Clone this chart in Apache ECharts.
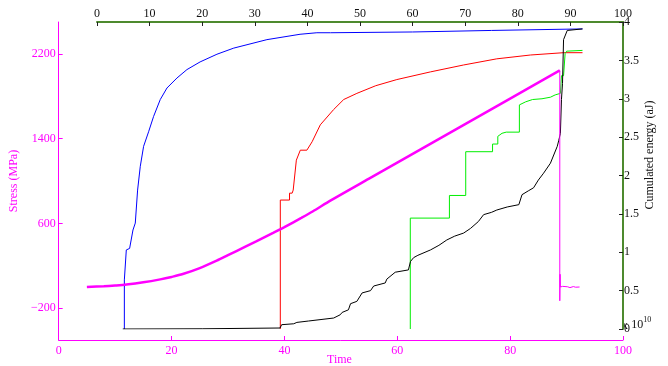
<!DOCTYPE html>
<html>
<head>
<meta charset="utf-8">
<script src="https://cdn.jsdelivr.net/npm/echarts@6/dist/echarts.min.js"></script>
<style>
  html, body { margin: 0; padding: 0; background: #fff; }
  #chart { width: 668px; height: 366px; }
</style>
</head>
<body>
<div id="chart"></div>
<script>
// 应力 (下/左坐标轴, Time - MPa)
let stressTime = [5, 8, 10, 12, 15, 18, 20, 22, 25, 28, 30, 33, 35, 38, 40, 43, 45, 48.3, 55, 60, 70, 80, 88.8]
let stressValues = [0, 7, 14, 23, 44, 72, 95, 122, 178, 248, 300, 378, 430, 510, 565, 652, 712, 819, 1022, 1173, 1475, 1777, 2043]
// 峰值之后的掉落段
let stressTailTime = [88.8, 88.8, 88.85, 88.9, 89.3, 89.6, 90.2, 90.6, 91.2, 91.6, 92.3]
let stressTailValues = [2043, -130, 120, 0, 6, -4, 2, -6, 4, -2, 0]

// 累计能量 (上/右坐标轴, 单位 x 10^10 aJ)
let blueTime = [5.2, 5.2, 5.57, 6.2, 6.84, 7.28, 7.72, 8.23, 8.86, 9.81, 10.76, 12.03, 13.3, 15.2, 17.1, 19.6, 22.8, 26, 32.3, 38.6, 41.8, 44.4, 60, 75, 92.3]
let blueEnergy = [0, 0.64, 1.03, 1.05, 1.29, 1.38, 1.81, 2.12, 2.38, 2.57, 2.77, 2.99, 3.14, 3.27, 3.38, 3.48, 3.58, 3.66, 3.77, 3.84, 3.86, 3.86, 3.87, 3.89, 3.91]

let redTime = [34.85, 34.85, 36.6, 36.6, 37.1, 37.3, 37.9, 38.65, 39.9, 40.9, 42.45, 45, 46.9, 49.4, 53, 57, 63.4, 69.7, 76, 82.4, 88.7, 92.3]
let redEnergy = [0, 1.68, 1.68, 1.77, 1.77, 1.81, 2.2, 2.33, 2.33, 2.44, 2.66, 2.86, 2.99, 3.07, 3.17, 3.25, 3.35, 3.44, 3.52, 3.57, 3.6, 3.6]

let greenTime = [59.56, 59.56, 67.0, 67.0, 70.1, 70.1, 75.2, 75.2, 76.2, 76.2, 77.0, 77.8, 80.3, 80.3, 81.5, 82.8, 84.6, 86.2, 87.1, 88.1, 88.3, 88.7, 89.0, 89.3, 92.3]
let greenEnergy = [0, 1.445, 1.445, 1.74, 1.74, 2.31, 2.31, 2.41, 2.41, 2.51, 2.55, 2.565, 2.565, 2.92, 2.96, 2.99, 3.0, 3.02, 3.05, 3.07, 3.3, 3.3, 3.59, 3.62, 3.63]

let blackTime = [4.9, 20, 34.8, 35.1, 37.4, 38, 40.2, 40.55, 45, 46.25, 46.6, 47.8, 48.2, 49.4, 50.4, 52, 52.6, 54.8, 55.1, 56.7, 59.2, 59.6, 60.2, 61, 63.4, 65, 66.5, 68, 69.7, 71, 72.5, 73.5, 75, 76, 78, 80.2, 80.8, 82, 83, 83.9, 84.9, 86.2, 87.5, 87.8, 88.1, 88.3, 88.5, 88.7, 89.4, 92.3]
let blackEnergy = [0, 0.003, 0.013, 0.056, 0.068, 0.086, 0.104, 0.117, 0.143, 0.186, 0.216, 0.25, 0.33, 0.36, 0.47, 0.5, 0.56, 0.6, 0.65, 0.74, 0.77, 0.88, 0.93, 0.96, 1.03, 1.09, 1.16, 1.21, 1.25, 1.31, 1.4, 1.49, 1.52, 1.55, 1.59, 1.62, 1.75, 1.8, 1.84, 1.94, 2.03, 2.16, 2.38, 2.46, 2.55, 2.99, 3.2, 3.77, 3.89, 3.91]

// 刻度
let stressTicks = [-200, 600, 1400, 2200]

const MAGENTA = '#ff00ff'
const AXIS_GREEN = '#4d8a2e'
const FONT = 'Liberation Serif'

function pairs(xs, ys) {
  let list = []
  xs.forEach((x, i) => {
    list.push([x, ys[i]])
  })
  return list
}

function lineSeries(name, xs, ys, color, width, xi, yi) {
  return {
    name: name,
    type: 'line',
    xAxisIndex: xi,
    yAxisIndex: yi,
    data: pairs(xs, ys),
    symbol: 'none',
    lineStyle: { color: color, width: width },
    itemStyle: { color: color },
    z: 2
  }
}

let stressSeries = lineSeries('stress', stressTime, stressValues, MAGENTA, 2.5, 0, 0)
stressSeries.smooth = 0.3

let chart = echarts.init(document.getElementById('chart'))
let option = {
  animation: false,
  backgroundColor: '#fff',
  textStyle: { fontFamily: FONT },
  grid: [
    { left: 56, right: 45, top: 22, bottom: 26 },
    { left: 97, right: 45, top: 22, bottom: 37 }
  ],
  xAxis: [
    {
      type: 'value',
      gridIndex: 0,
      position: 'bottom',
      min: 0,
      max: 100,
      interval: 20,
      axisLine: { onZero: false, lineStyle: { color: MAGENTA, width: 1 } },
      axisTick: { inside: true, length: 4, lineStyle: { color: MAGENTA } },
      axisLabel: { color: MAGENTA, fontSize: 12, fontFamily: FONT, margin: 5 },
      splitLine: { show: false }
    },
    {
      type: 'value',
      gridIndex: 1,
      position: 'top',
      min: 0,
      max: 100,
      interval: 10,
      axisLine: { onZero: false, lineStyle: { color: AXIS_GREEN, width: 2 } },
      axisTick: { inside: true, length: 4, lineStyle: { color: '#222' } },
      axisLabel: { color: '#111', fontSize: 12, fontFamily: FONT, margin: 2 },
      splitLine: { show: false }
    }
  ],
  yAxis: [
    {
      type: 'value',
      gridIndex: 0,
      position: 'left',
      min: -500,
      max: 2500,
      name: 'Stress (MPa)',
      nameLocation: 'middle',
      nameGap: 32,
      nameTextStyle: { color: MAGENTA, fontSize: 12, fontFamily: FONT },
      axisLine: { onZero: false, lineStyle: { color: MAGENTA, width: 1 } },
      axisTick: { inside: true, length: 4, customValues: stressTicks, lineStyle: { color: MAGENTA } },
      axisLabel: {
        color: MAGENTA, fontSize: 12, fontFamily: FONT, margin: 3,
        customValues: stressTicks,
        formatter: v => String(v).replace('-', '\u2212')
      },
      splitLine: { show: false }
    },
    {
      type: 'value',
      gridIndex: 1,
      position: 'right',
      min: 0,
      max: 4,
      interval: 0.5,
      axisLine: { onZero: false, lineStyle: { color: AXIS_GREEN, width: 2 } },
      axisTick: { inside: true, length: 4, lineStyle: { color: '#222' } },
      axisLabel: { color: '#111', fontSize: 12, fontFamily: FONT, margin: 1 },
      splitLine: { show: false }
    }
  ],
  graphic: [
    {
      type: 'text',
      left: 327,
      top: 354,
      style: { text: 'Time', fill: MAGENTA, font: '12px "Liberation Serif"' }
    },
    {
      type: 'text',
      x: 650,
      y: 155,
      rotation: Math.PI / 2,
      style: {
        text: 'Cumulated energy (aJ)', fill: '#111', font: '12px "Liberation Serif"',
        align: 'center', verticalAlign: 'middle'
      }
    },
    {
      type: 'text',
      x: 622,
      y: 314,
      style: {
        text: '{a|x} {b|10}{c|10}',
        rich: {
          a: { fontSize: 12, fontFamily: FONT, fill: '#111', padding: [6, 0, 0, 0] },
          b: { fontSize: 12, fontFamily: FONT, fill: '#111', padding: [4, 0, 0, 0] },
          c: { fontSize: 8, fontFamily: FONT, fill: '#111', padding: [0, 0, 6, 0] }
        }
      }
    }
  ],
  series: [
    lineSeries('blue', blueTime, blueEnergy, '#0000ff', 1, 1, 1),
    lineSeries('red', redTime, redEnergy, '#ff0000', 1, 1, 1),
    lineSeries('green', greenTime, greenEnergy, '#00ee00', 1, 1, 1),
    lineSeries('black', blackTime, blackEnergy, '#000000', 1, 1, 1),
    lineSeries('stress tail', stressTailTime, stressTailValues, MAGENTA, 1, 0, 0),
    stressSeries
  ]
}
chart.setOption(option)
</script>
</body>
</html>
